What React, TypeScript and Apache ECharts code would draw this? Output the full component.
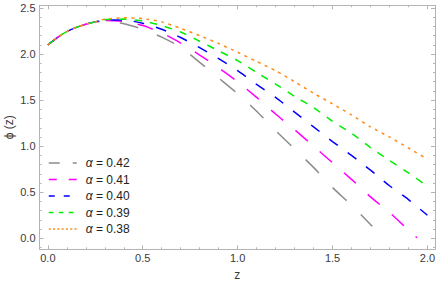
import React, { useEffect, useRef } from "react";
import * as echarts from "echarts";

// ---- data ----
const zShared = [0, 0.05, 0.1, 0.15, 0.2, 0.25];
const phiShared = [2.1, 2.18, 2.245, 2.29, 2.325, 2.35];

const zTail = [0.3, 0.4, 0.5, 0.6, 0.7, 0.8, 0.9, 1.0, 1.1, 1.2, 1.3, 1.4, 1.5, 1.6, 1.7, 1.8, 1.9, 2.0];

const phi042 = [2.355, 2.33, 2.27, 2.185, 2.075, 1.91, 1.74, 1.57, 1.38, 1.17, 0.97, 0.77, 0.55, 0.36, 0.15];
const end042 = [1.71, 0.13];
const phi041 = [2.365, 2.355, 2.31, 2.23, 2.12, 1.99, 1.85, 1.7, 1.53, 1.35, 1.18, 1.0, 0.82, 0.64, 0.45, 0.28, 0.09];
const end041 = [1.945, 0.005];
const phi040 = [2.37, 2.37, 2.335, 2.27, 2.18, 2.07, 1.95, 1.82, 1.67, 1.53, 1.37, 1.21, 1.05, 0.9, 0.74, 0.57, 0.42, 0.25];
const phi039 = [2.375, 2.38, 2.36, 2.31, 2.24, 2.14, 2.035, 1.93, 1.8, 1.675, 1.54, 1.42, 1.27, 1.14, 0.985, 0.845, 0.71, 0.565];
const phi038 = [2.38, 2.395, 2.385, 2.35, 2.28, 2.2, 2.115, 2.02, 1.92, 1.82, 1.7, 1.575, 1.46, 1.34, 1.21, 1.1, 0.98, 0.86];

const alphas = ["0.42", "0.41", "0.40", "0.39", "0.38"];
const colors = ["#8c8c8c", "#ff00ff", "#0000ff", "#00ee00", "#ff8c1a"];
const plotDash = [[19, 20], [16, 16], [11, 12], [7.5, 8], [3, 4.5]];
const legendDash = [[11, 13], [8, 12], [6, 9], [4.6, 5.4], [2, 2.3]];

const xMajor = [0, 0.5, 1, 1.5, 2];
const yMajor = [0, 0.5, 1, 1.5, 2, 2.5];

function minorTicks(lo: number, hi: number, step: number, majors: number[]) {
  const out: number[] = [];
  for (let i = Math.round(lo / step); i * step <= hi + 1e-9; i++) {
    const v = +(i * step).toFixed(4);
    if (!majors.some((m) => Math.abs(m - v) < 1e-6)) out.push(v);
  }
  return out;
}

const FONT = "'Liberation Sans', Arial, sans-serif";
const FRAME = "#b4b4b4";

function buildCurve(tail: number[], end?: number[]) {
  const pts: number[][] = zShared.map((z, i) => [z, phiShared[i]]);
  tail.forEach((v, i) => pts.push([zTail[i], v]));
  if (end) pts.push(end);
  return pts;
}

export default function App() {
  const ref = useRef<HTMLDivElement>(null);
  useEffect(() => {
    document.body.style.margin = "0";
    const chart = echarts.init(ref.current!, undefined, { renderer: "svg" });
    const xMin = -0.044, xMax = 2.04, yMin = -0.12, yMax = 2.53;
    const xMinor = minorTicks(0, 2.0, 0.1, xMajor);
    const yMinor = minorTicks(-0.1, 2.5, 0.1, yMajor);

    const mkX = (pos: string, ticks: number[], len: number, labels: boolean, line: boolean, extra: any = {}) => ({
      type: "value",
      position: pos,
      min: xMin,
      max: xMax,
      axisLine: { show: line, onZero: false, lineStyle: { color: FRAME, width: 1 } },
      axisTick: { show: true, inside: true, length: len, customValues: ticks, lineStyle: { color: FRAME } },
      axisLabel: labels
        ? { show: true, customValues: ticks, margin: 3, color: "#3a3a3a", fontSize: 11, fontFamily: FONT, formatter: (v: number) => v.toFixed(1) }
        : { show: false },
      splitLine: { show: false },
      ...extra,
    });
    const mkY = (pos: string, ticks: number[], len: number, labels: boolean, line: boolean, extra: any = {}) => ({
      type: "value",
      position: pos,
      min: yMin,
      max: yMax,
      axisLine: { show: line, onZero: false, lineStyle: { color: FRAME, width: 1 } },
      axisTick: { show: true, inside: true, length: len, customValues: ticks, lineStyle: { color: FRAME } },
      axisLabel: labels
        ? { show: true, customValues: ticks, margin: 4, color: "#3a3a3a", fontSize: 11, fontFamily: FONT, formatter: (v: number) => v.toFixed(1) }
        : { show: false },
      splitLine: { show: false },
      ...extra,
    });

    const curves = [
      buildCurve(phi042, end042),
      buildCurve(phi041, end041),
      buildCurve(phi040),
      buildCurve(phi039),
      buildCurve(phi038),
    ];

    chart.setOption({
      animation: false,
      grid: { left: 39.5, right: 1, top: 5.3, bottom: 36.7, containLabel: false, outerBoundsMode: "none" },
      xAxis: [
        mkX("bottom", xMajor, 4, true, true, {
          name: "z",
          nameLocation: "middle",
          nameGap: 20,
          nameMoveOverlap: false,
          nameTextStyle: { color: "#3a3a3a", fontSize: 12, fontFamily: FONT },
        }),
        mkX("bottom", xMinor, 2, false, false),
        mkX("top", xMajor, 4, false, true),
        mkX("top", xMinor, 2, false, false),
      ],
      yAxis: [
        mkY("left", yMajor, 4, true, true, {
          name: "ϕ (z)",
          nameLocation: "middle",
          nameGap: 25,
          nameMoveOverlap: false,
          nameTextStyle: { color: "#3a3a3a", fontSize: 12, fontFamily: FONT },
        }),
        mkY("left", yMinor, 2, false, false),
        mkY("right", yMajor, 4, false, true),
        mkY("right", yMinor, 2, false, false),
      ],
      legend: {
        orient: "vertical",
        left: 48,
        top: 157,
        padding: 0,
        itemWidth: 28,
        itemHeight: 14,
        itemGap: 4.5,
        itemStyle: { color: "rgba(0,0,0,0)", opacity: 0, borderWidth: 0 },
        textStyle: {
          fontSize: 12,
          fontFamily: FONT,
          color: "#222",
          padding: [0, 0, 0, 4],
          rich: { i: { fontStyle: "italic", fontSize: 12, fontFamily: FONT, color: "#222" } },
        },
        formatter: (name: string) => "{i|α} = " + name.split("= ")[1],
        data: alphas.map((a, i) => ({
          name: "α = " + a,
          itemStyle: { color: "rgba(0,0,0,0)", opacity: 0, borderWidth: 0 },
          lineStyle: { color: colors[i], width: 1.5, type: legendDash[i] },
        })),
      },
      series: curves.map((pts, i) => ({
        name: "α = " + alphas[i],
        type: "line",
        data: pts,
        xAxisIndex: 0,
        yAxisIndex: 0,
        smooth: 0.2,
        symbol: "none",
        showSymbol: false,
        clip: true,
        lineStyle: { color: colors[i], width: 1.5, type: plotDash[i] },
        itemStyle: { color: colors[i] },
      })),
    });
    return () => chart.dispose();
  }, []);
  return <div ref={ref} style={{ width: 436, height: 286 }} />;
}
